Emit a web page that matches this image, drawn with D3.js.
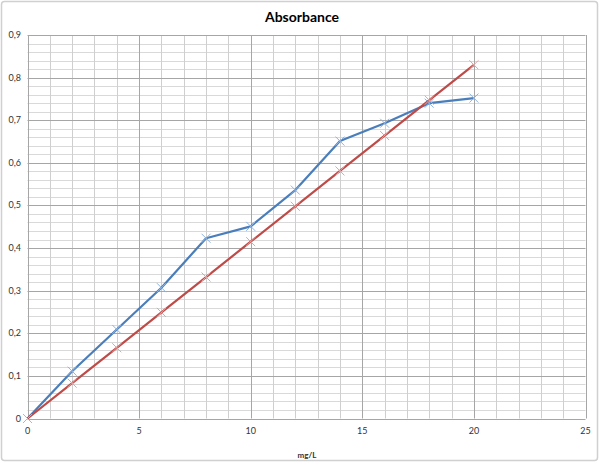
<!DOCTYPE html>
<html><head><meta charset="utf-8">
<script src="https://cdn.jsdelivr.net/npm/d3@7"></script>
<style>html,body{margin:0;padding:0;background:#fff;}svg{display:block;}</style>
</head><body>
<svg id="c" width="600" height="463"></svg>
<script>
const xValues = [0, 2, 4, 6, 8, 10, 12, 14, 16, 18, 20];
const blueValues = [0, 0.111, 0.209, 0.307, 0.423, 0.451, 0.536, 0.651, 0.693, 0.740, 0.752];
const redValues = [0, 0.083, 0.166, 0.249, 0.332, 0.415, 0.498, 0.581, 0.664, 0.747, 0.830];
const xTicks = [0, 5, 10, 15, 20, 25];
const yTicks = [0, 0.1, 0.2, 0.3, 0.4, 0.5, 0.6, 0.7, 0.8, 0.9];
const titleText = "Absorbance";
const xTitle = "mg/L";

const svg = d3.select("#c");
const font = "Lato, 'Open Sans', sans-serif";
svg.append("rect").attr("x",1.5).attr("y",1.5).attr("width",596).attr("height",459)
  .attr("fill","#fff").attr("stroke","#d0d0d0").attr("stroke-width",1.5).attr("rx",3);

const L=27.5, R=585.5, T=35, B=418.5;
const x = d3.scaleLinear().domain([0,25]).range([L,R]);
const y = d3.scaleLinear().domain([0,0.9]).range([B,T]);

const g = svg.append("g");
// minor horizontal
d3.range(0, 46).map(i=>i*0.02).filter((v,i)=>i%5!==0).forEach(v=>{
  g.append("line").attr("x1",L).attr("x2",R).attr("y1",Math.round(y(v))+0.5).attr("y2",Math.round(y(v))+0.5)
   .attr("stroke","#d9d9d9").attr("stroke-width",1);
});
// minor vertical
d3.range(0,26).filter(v=>v%5!==0).forEach(v=>{
  g.append("line").attr("y1",T).attr("y2",B).attr("x1",Math.round(x(v))+0.5).attr("x2",Math.round(x(v))+0.5)
   .attr("stroke","#cfcfcf").attr("stroke-width",1);
});
// major horizontal
yTicks.forEach(v=>{
  g.append("line").attr("x1",L).attr("x2",R).attr("y1",Math.round(y(v))+0.5).attr("y2",Math.round(y(v))+0.5)
   .attr("stroke","#a6a6a6").attr("stroke-width",1);
});
// major vertical
xTicks.forEach(v=>{
  g.append("line").attr("y1",T).attr("y2",B).attr("x1",Math.round(x(v))+0.5).attr("x2",Math.round(x(v))+0.5)
   .attr("stroke","#a6a6a6").attr("stroke-width",1);
});

// y tick labels
const fmt = v => d3.format("~g")(v).replace(".", ",");
yTicks.forEach(v=>{
  svg.append("text").attr("x",21).attr("y",y(v)+3).attr("text-anchor","end")
    .attr("font-family",font).attr("font-size",9).attr("fill","#333").text(fmt(v));
});
xTicks.forEach(v=>{
  svg.append("text").attr("x",x(v)).attr("y",434).attr("text-anchor","middle")
    .attr("font-family",font).attr("font-size",9).attr("fill","#333").text(fmt(v));
});

svg.append("text").attr("x",302).attr("y",22).attr("text-anchor","middle")
  .attr("font-family",font).attr("font-size",14).attr("font-weight","bold").attr("fill","#000").text(titleText);
svg.append("text").attr("x",307).attr("y",458).attr("text-anchor","middle")
  .attr("font-family",font).attr("font-size",8).attr("font-weight","bold").attr("fill","#333").text(xTitle);

function series(vals, lineColor, markColor){
  const data = xValues.map((xv,i)=>[xv, vals[i]]);
  svg.append("path").datum(data).attr("fill","none").attr("stroke",lineColor).attr("stroke-width",2.2)
    .attr("stroke-linejoin","round")
    .attr("d", d3.line().x(d=>x(d[0])).y(d=>y(d[1])));
  const s=4.5;
  data.forEach(d=>{
    const cx=x(d[0]), cy=y(d[1]);
    svg.append("path").attr("d",`M${cx-s},${cy-s}L${cx+s},${cy+s}M${cx-s},${cy+s}L${cx+s},${cy-s}`)
      .attr("stroke",markColor).attr("stroke-width",1).attr("fill","none");
  });
}
series(blueValues, "#4a7ebb", "#8db3e2");
series(redValues, "#be4b48", "#e6a0a0");
</script>
</body></html>
